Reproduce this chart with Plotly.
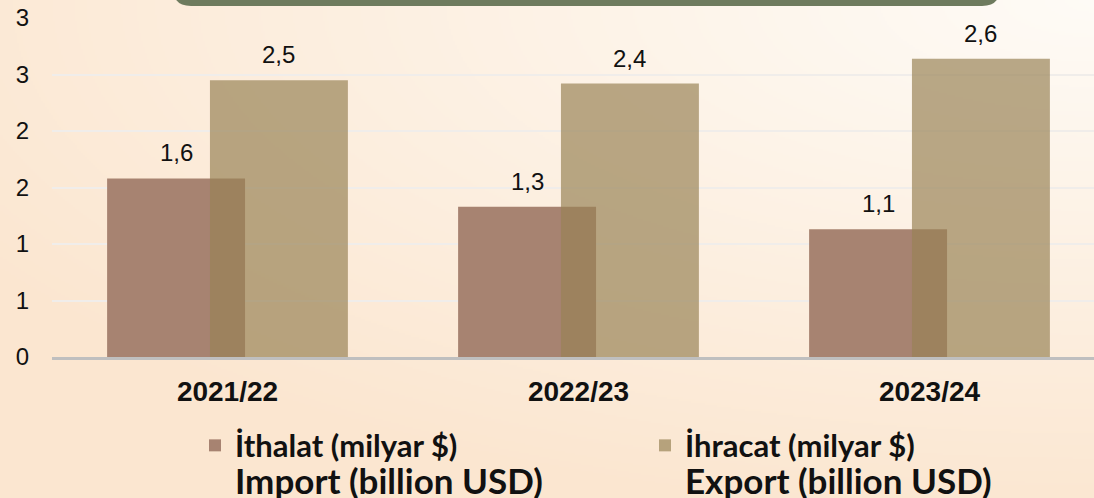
import base64
import struct
import zlib

import numpy as np
import plotly.graph_objects as go

# ---- data -------------------------------------------------------------
seasons = ["2021/22", "2022/23", "2023/24"]
imports_bn = [1.58, 1.33, 1.13]   # İthalat (milyar $)
exports_bn = [2.45, 2.42, 2.64]   # İhracat (milyar $)
y_tick_values = [0, 0.5, 1, 1.5, 2, 2.5, 3]
y_tick_labels = ["0", "1", "1", "2", "2", "3", "3"]
import_name = "İthalat (milyar $)"
import_name_en = "Import (billion USD)"
export_name = "İhracat (milyar $)"
export_name_en = "Export (billion USD)"

# ---- geometry ---------------------------------------------------------
W, H = 1094, 498
ML, MR, MT, MB = 52, 0, 18, 141
PW, PH = W - ML - MR, H - MT - MB
CAT_PX = 351.0                      # pixel width of one category slot
BAR_W = 0.393
IMP_OFF, EXP_OFF = -0.343, -0.050


def px_to_paper(px, py):
    return (px - ML) / PW, (H - MB - py) / PH


# ---- soft peach background gradient as an inline PNG ----------------
def png_uri(rgb):
    h, w, _ = rgb.shape
    raw = b"".join(b"\x00" + rgb[r].tobytes() for r in range(h))

    def chunk(tag, data):
        c = struct.pack(">I", len(data)) + tag + data
        return c + struct.pack(">I", zlib.crc32(tag + data) & 0xFFFFFFFF)

    png = b"\x89PNG\r\n\x1a\n"
    png += chunk(b"IHDR", struct.pack(">IIBBBBB", w, h, 8, 2, 0, 0, 0))
    png += chunk(b"IDAT", zlib.compress(raw, 9))
    png += chunk(b"IEND", b"")
    return "data:image/png;base64," + base64.b64encode(png).decode()


gw, gh = W // 2, H // 2
yy, xx = np.mgrid[0:gh, 0:gw].astype(float)
xx *= W / gw
yy *= H / gh
d = np.sqrt(((W - xx) / 1300.0) ** 2 + (yy / 520.0) ** 2)
t = np.clip(1.0 - d, 0.0, 1.0)[..., None]
peach = np.array([251, 230, 208], float)
light = np.array([254, 251, 246], float)
bg = (peach + (light - peach) * t).round().astype(np.uint8)
bg_uri = png_uri(bg)

x0p, ytop = px_to_paper(0, 0)
bg_image = dict(source=bg_uri, xref="paper", yref="paper", x=x0p, y=ytop,
                sizex=W / PW, sizey=H / PH, xanchor="left", yanchor="top",
                sizing="stretch", layer="below")

# ---- rounded green banner peeking in at the top ----------------------
bx0, bx1, by0, by1, rad = 173, 1000, -40, 6, 18


def P(px, py):
    a, b = px_to_paper(px, py)
    return f"{a:.5f},{b:.5f}"


banner_path = (
    f"M{P(bx0, by0)} L{P(bx0, by1 - rad)} Q{P(bx0, by1)} {P(bx0 + rad, by1)} "
    f"L{P(bx1 - rad, by1)} Q{P(bx1, by1)} {P(bx1, by1 - rad)} L{P(bx1, by0)} Z"
)


def legend_label(tr, en):
    return (f"<b><span style='font-size:31px'>{tr}</span></b><br>"
            f"<b><span style='font-size:35px'>{en}</span></b>")


# ---- figure -----------------------------------------------------------
xpos = list(range(len(seasons)))
fig = go.Figure()
fig.add_trace(go.Bar(
    x=xpos, y=imports_bn, width=BAR_W, offset=IMP_OFF,
    marker=dict(color="#A78371", line=dict(width=0)),
    name=legend_label(import_name, import_name_en), legend="legend",
))
fig.add_trace(go.Bar(
    x=xpos, y=exports_bn, width=BAR_W, offset=EXP_OFF,
    marker=dict(color="#988356", line=dict(width=0)), opacity=0.69,
    name=legend_label(export_name, export_name_en), legend="legend2",
))

annotations = []
for off, vals in ((IMP_OFF, imports_bn), (EXP_OFF, exports_bn)):
    for i, v in zip(xpos, vals):
        annotations.append(dict(
            x=i + off + BAR_W / 2, y=v, xref="x", yref="y",
            text=f"{v:.1f}".replace(".", ","), showarrow=False,
            yanchor="bottom", yshift=11, borderpad=0,
            font=dict(family="Liberation Sans, Arial", size=24, color="#111"),
        ))

legend_common = dict(
    orientation="v", yref="container", y=1 - 420 / H,
    yanchor="top", xanchor="left", valign="top",
    font=dict(family="Lato, Noto Sans, sans-serif", size=29, color="#111"),
    bgcolor="rgba(0,0,0,0)", itemclick=False, itemdoubleclick=False,
)

fig.update_layout(
    width=W, height=H,
    margin=dict(l=ML, r=MR, t=MT, b=MB, pad=0, autoexpand=False),
    paper_bgcolor="#FBE6D0",
    plot_bgcolor="rgba(0,0,0,0)",
    barmode="overlay",
    images=[bg_image],
    shapes=[dict(type="path", path=banner_path, xref="paper", yref="paper",
                 fillcolor="#6E7B5E", line=dict(width=0), layer="above")],
    annotations=annotations,
    showlegend=True,
    legend=dict(x=(195 - ML) / PW, **legend_common),
    legend2=dict(x=(645 - ML) / PW, **legend_common),
    xaxis=dict(
        range=[-0.5, -0.5 + PW / CAT_PX], tickvals=xpos, ticktext=seasons,
        showgrid=False, zeroline=False, showline=True, linecolor="#BFBFBF",
        linewidth=3, ticks="", ticklabelstandoff=7,
        tickfont=dict(family="Liberation Sans, Arial", size=28, color="#111",
                      weight="bold"),
    ),
    yaxis=dict(
        range=[0, 3], tickvals=y_tick_values, ticktext=y_tick_labels,
        showgrid=True, gridcolor="#F0EDEA", gridwidth=2, zeroline=False,
        showline=False, ticks="", ticklabelstandoff=22,
        tickfont=dict(family="Liberation Sans, Arial", size=24, color="#111"),
    ),
)

fig.write_html("out.html")
